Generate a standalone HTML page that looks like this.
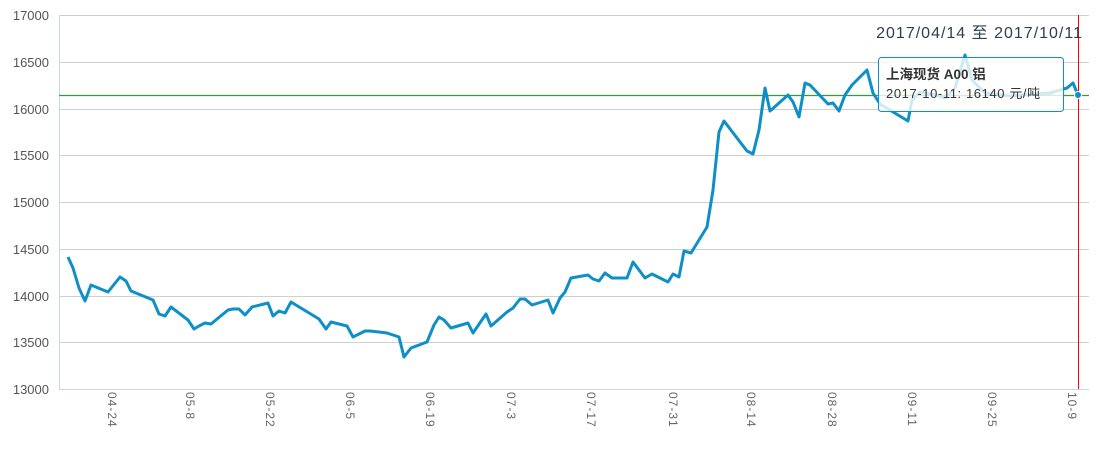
<!DOCTYPE html>
<html><head><meta charset="utf-8"><style>
html,body{margin:0;padding:0;background:#fff;}
svg{display:block;font-family:"Liberation Sans","Noto Sans CJK SC",sans-serif;}
</style></head><body>
<svg width="1105" height="454" viewBox="0 0 1105 454" xmlns="http://www.w3.org/2000/svg">
<g stroke="#d0d0d0" stroke-width="1">
<line x1="59" x2="1089" y1="15.5" y2="15.5"/>
<line x1="59" x2="1089" y1="62.5" y2="62.5"/>
<line x1="59" x2="1089" y1="109.5" y2="109.5"/>
<line x1="59" x2="1089" y1="155.5" y2="155.5"/>
<line x1="59" x2="1089" y1="202.5" y2="202.5"/>
<line x1="59" x2="1089" y1="249.5" y2="249.5"/>
<line x1="59" x2="1089" y1="296.5" y2="296.5"/>
<line x1="59" x2="1089" y1="342.5" y2="342.5"/>
</g>
<line x1="59" x2="1089" y1="389.5" y2="389.5" stroke="#ccd6eb"/>
<line x1="59.5" x2="59.5" y1="15" y2="389" stroke="#ccd6eb"/>
<g font-size="13" fill="#555" text-anchor="end">
<text x="49" y="20">17000</text><text x="49" y="67">16500</text><text x="49" y="114">16000</text>
<text x="49" y="160">15500</text><text x="49" y="207">15000</text><text x="49" y="254">14500</text>
<text x="49" y="301">14000</text><text x="49" y="347">13500</text><text x="49" y="394">13000</text>
</g>
<g font-size="12" fill="#666" letter-spacing="1">
<text transform="translate(108,392) rotate(90)">04-24</text>
<text transform="translate(186,392) rotate(90)">05-8</text>
<text transform="translate(266,392) rotate(90)">05-22</text>
<text transform="translate(346,392) rotate(90)">06-5</text>
<text transform="translate(426,392) rotate(90)">06-19</text>
<text transform="translate(507,392) rotate(90)">07-3</text>
<text transform="translate(587,392) rotate(90)">07-17</text>
<text transform="translate(669,392) rotate(90)">07-31</text>
<text transform="translate(747,392) rotate(90)">08-14</text>
<text transform="translate(828,392) rotate(90)">08-28</text>
<text transform="translate(908,392) rotate(90)">09-11</text>
<text transform="translate(988,392) rotate(90)">09-25</text>
<text transform="translate(1068,392) rotate(90)">10-9</text>
</g>
<line x1="59" x2="1089" y1="95.5" y2="95.5" stroke="#3a9a3a" stroke-width="1.2"/>
<polyline fill="none" stroke="#0e8fc6" stroke-width="3" stroke-linejoin="round" points="68,257 73,268 79,288 85,301 91,285 108,292 120,277 126,281 131,291 153,300 159,314 165,316 171,307 188,320 194,329 199,326 205,323 211,324 228,310 233,309 239,309 245,315 252,307 268,303 273,316 279,311 285,313 291,302 319,319 326,329 331,322 347,326 353,337 365,331 370,331 387,333 399,337 404,357 411,348 427,342 434,325 439,317 444,320 451,328 468,323 473,333 486,314 491,326 507,312 513,308 520,299 525,299 532,305 548,300 553,313 560,298 565,292 571,278 588,275 593,279 599,281 605,273 612,278 627,278 633,262 645,278 652,274 668,282 673,274 679,277 684,251 691,253 707,227 713,190 719,132 724,121 747,151 753,154 759,130 765,88 770,111 788,95 793,102 799,117 805,83 810,85 828,104 833,103 839,111 845,95 852,85 867,70 873,93 880,104 908,121 912,100 920,92 935,95 945,98 955,88 965,55 972,80 985,93 1010,96 1050,93 1067,88 1073,83 1078,95"/>
<line x1="1078.5" x2="1078.5" y1="15" y2="389" stroke="#ff0000" stroke-width="1"/>
<circle cx="1078" cy="95" r="3.5" fill="#0e8fc6" stroke="#fff" stroke-width="1"/>
<text x="1083" y="38" font-size="16" fill="#2e3e50" text-anchor="end" letter-spacing="1">2017/04/14 至 2017/10/11</text>
<rect x="878.5" y="57.5" width="185" height="54" rx="3" fill="rgba(255,255,255,0.8)" stroke="#0e8fc6" stroke-width="1"/>
<text x="886" y="79" font-size="13.5" font-weight="bold" fill="#333">上海现货 A00 铝</text>
<text x="886" y="98" font-size="13" fill="#333" letter-spacing="0.6">2017-10-11: 16140 元/吨</text>
</svg>
</body></html>
